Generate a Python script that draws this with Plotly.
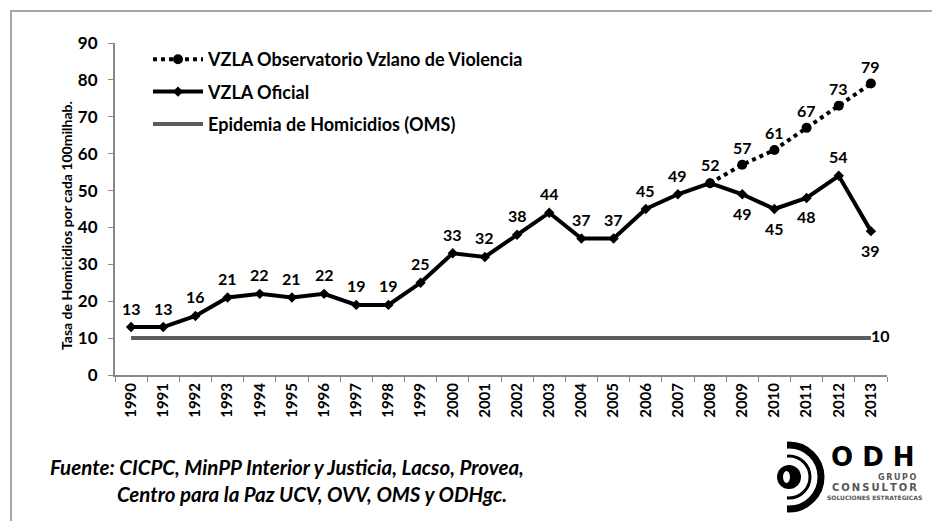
import plotly.graph_objects as go

years = [str(y) for y in range(1990, 2014)]
oficial = [13, 13, 16, 21, 22, 21, 22, 19, 19, 25, 33, 32, 38, 44, 37, 37, 45, 49, 52, 49, 45, 48, 54, 39]
obs_years = ["2008", "2009", "2010", "2011", "2012", "2013"]
observatorio = [52, 57, 61, 67, 73, 79]
epidemia = [10] * 24
below_years = ["2009", "2010", "2011", "2013"]  # official labels placed under the line

name_obs = "VZLA Observatorio Vzlano de Violencia"
name_of = "VZLA Oficial"
name_epi = "Epidemia de Homicidios (OMS)"

# target plot area in window pixels; the page body adds an 8px offset
OFF = 8
L, R, T, B = 115, 887, 43, 375
W, H = 940 - OFF, 521 - OFF


def px(x):
    return (x - L) / (R - L)


def py(y):
    return (B - y) / (B - T)


FONT = "Lato"
LABEL_FONT = dict(size=16, color="black", family=FONT, weight="bold")
fig = go.Figure()

fig.add_trace(go.Scatter(
    x=years, y=epidemia, name=name_epi, legendgroup="c", legendrank=3,
    mode="lines+text",
    line=dict(color="#5c5c5c", width=4),
    text=[""] * 23 + ["10"], textposition="middle right",
    textfont=LABEL_FONT,
    cliponaxis=False,
))

fig.add_trace(go.Scatter(
    x=years, y=oficial, name=name_of, legendgroup="b", legendrank=2,
    mode="lines+markers",
    line=dict(color="black", width=4),
    marker=dict(symbol="diamond", size=8, color="black"),
    cliponaxis=False,
))

fig.add_trace(go.Scatter(
    x=obs_years, y=observatorio, name=name_obs, legendgroup="a", legendrank=1,
    mode="lines+markers",
    line=dict(color="black", width=4, dash="dot"),
    marker=dict(symbol="circle", size=10, color="black"),
    cliponaxis=False,
))

annotations = []
# value labels from the data (category index positions on the x axis)
for yr, v in zip(years, oficial):
    below = yr in below_years
    annotations.append(dict(x=years.index(yr), y=v, xref="x", yref="y", text=str(v), showarrow=False,
                            yshift=-19 if below else 19, font=LABEL_FONT))
for yr, v in zip(obs_years[1:], observatorio[1:]):
    annotations.append(dict(x=years.index(yr), y=v, xref="x", yref="y", text=str(v), showarrow=False,
                            yshift=17, font=LABEL_FONT))

shapes = []
# outer frame
shapes.append(dict(type="rect", xref="paper", yref="paper",
                   x0=px(11), x1=px(960), y0=py(11), y1=py(540),
                   line=dict(color="#8a8a8a", width=1.5), layer="below"))
# logo
cx, cy = 789, 477
shapes.append(dict(type="circle", xref="paper", yref="paper",
                   x0=px(cx - 32), x1=px(cx + 32), y0=py(cy - 32), y1=py(cy + 32),
                   line=dict(color="black", width=7)))
shapes.append(dict(type="circle", xref="paper", yref="paper",
                   x0=px(cx - 21), x1=px(cx + 21), y0=py(cy - 21), y1=py(cy + 21),
                   line=dict(color="black", width=3)))
shapes.append(dict(type="rect", xref="paper", yref="paper",
                   x0=px(740), x1=px(cx - 2), y0=py(436), y1=py(520),
                   fillcolor="white", line=dict(width=0)))
shapes.append(dict(type="circle", xref="paper", yref="paper",
                   x0=px(cx - 12), x1=px(cx + 12), y0=py(cy - 12), y1=py(cy + 12),
                   fillcolor="black", line=dict(width=0)))
shapes.append(dict(type="circle", xref="paper", yref="paper",
                   x0=px(cx - 6), x1=px(cx + 1), y0=py(cy - 6), y1=py(cy + 6),
                   fillcolor="white", line=dict(width=0)))

TS = "\u2009"
FOOT_FONT = dict(size=20.5, family=FONT, style="italic", weight="bold", color="black")
annotations += [
    dict(text="Tasa de Homicidios por cada 100milhab.", textangle=-90,
         x=px(66), y=py(226), xref="paper", yref="paper", xanchor="center", yanchor="middle",
         showarrow=False, font=dict(size=14, family=FONT, weight="bold", color="black")),
    dict(text="Fuente: CICPC, MinPP Interior y Justicia, Lacso, Provea,",
         x=px(48), y=py(467), xref="paper", yref="paper", xanchor="left", yanchor="middle",
         showarrow=False, font=FOOT_FONT),
    dict(text="Centro para la Paz UCV, OVV, OMS y ODHgc.",
         x=px(115), y=py(494), xref="paper", yref="paper", xanchor="left", yanchor="middle",
         showarrow=False, font=FOOT_FONT),
    dict(text="O D H", x=px(873), y=py(457), xref="paper", yref="paper", xanchor="center", yanchor="middle",
         showarrow=False, font=dict(size=26, family="DejaVu Sans", weight="bold", color="black")),
    dict(text=TS.join("GRUPO"), x=px(918), y=py(477), xref="paper", yref="paper", xanchor="right",
         yanchor="middle", showarrow=False,
         font=dict(size=8, family="DejaVu Sans", weight="bold", color="#555")),
    dict(text=TS.join("CONSULTOR"), x=px(874), y=py(487), xref="paper", yref="paper", xanchor="center",
         yanchor="middle", showarrow=False,
         font=dict(size=10, family="DejaVu Sans", weight="bold", color="#555")),
    dict(text="SOLUCIONES ESTRATÉGICAS", x=px(874), y=py(497), xref="paper", yref="paper", xanchor="center",
         yanchor="middle", showarrow=False, font=dict(size=6, family="DejaVu Sans", weight="bold", color="#555")),
]

fig.update_layout(
    width=W, height=H,
    margin=dict(l=L - OFF, r=940 - R, t=T - OFF, b=521 - B),
    paper_bgcolor="white", plot_bgcolor="white",
    font=dict(family=FONT, color="black", weight="bold"),
    shapes=shapes, annotations=annotations,
    legend=dict(x=px(148), y=py(41), xanchor="left", yanchor="top",
                traceorder="grouped", tracegroupgap=6,
                font=dict(size=18, family=FONT, weight="bold"),
                bgcolor="rgba(0,0,0,0)", itemwidth=50),
    xaxis=dict(type="category", range=[-0.5, 23.5], tickangle=-90, tickson="boundaries",
               ticks="outside", ticklen=5, tickcolor="#888", showline=True, linecolor="#888", linewidth=2,
               showgrid=False, tickfont=dict(size=15, family=FONT, weight="bold")),
    yaxis=dict(range=[0, 90], dtick=10, ticks="outside", ticklen=5, tickcolor="#888",
               showline=True, linecolor="#888", linewidth=2, showgrid=False, zeroline=False,
               ticklabelstandoff=7,
               tickfont=dict(size=17, family=FONT, weight="bold")),
)

fig.write_html("out.html")
